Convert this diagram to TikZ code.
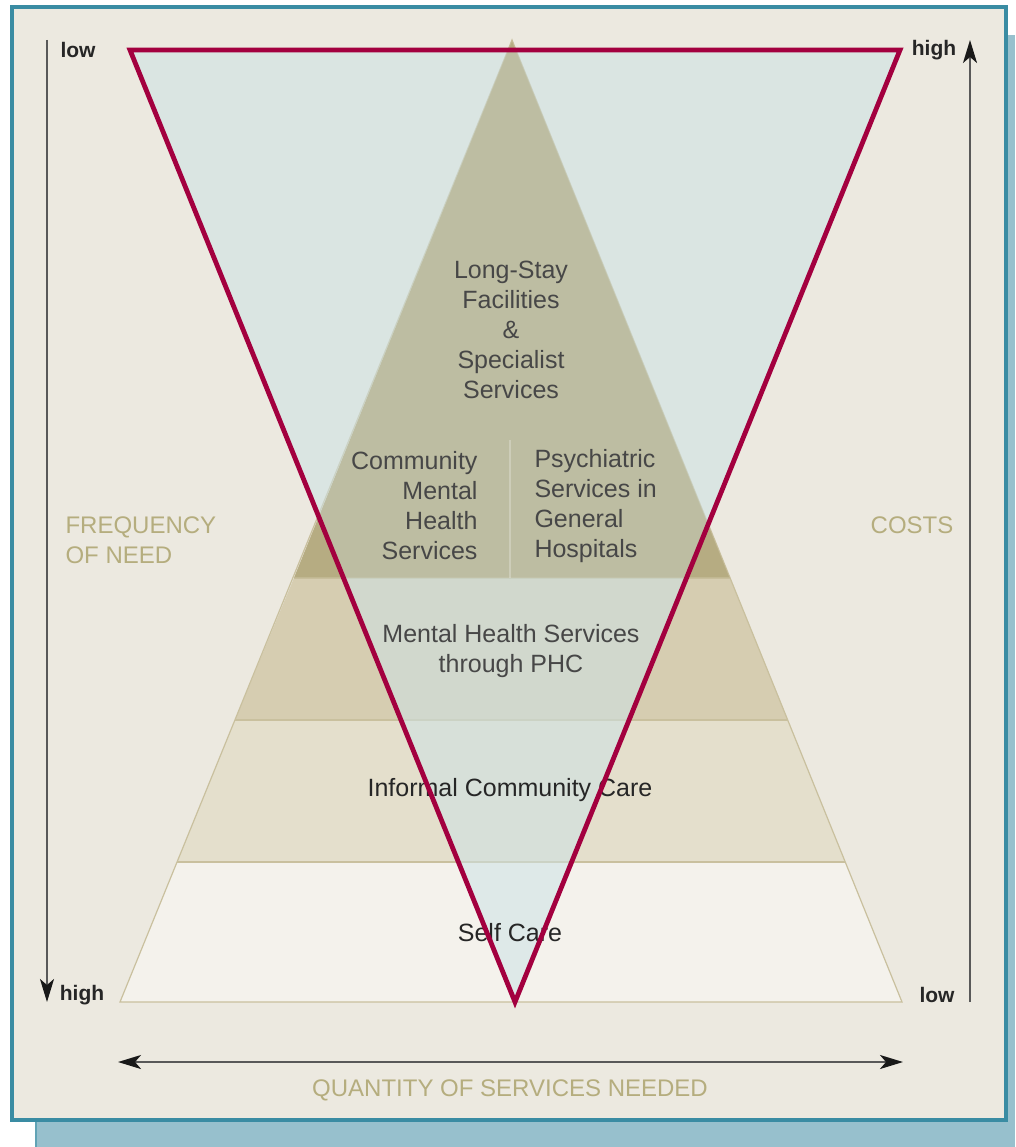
\documentclass[tikz,border=0pt]{standalone}
\usepackage{fontspec}
\setmainfont{Liberation Sans}
\usetikzlibrary{arrows.meta}
\tikzset{>={Stealth[length = 23pt, width = 14pt, inset = 6pt, black!90]}}
\definecolor{frameTeal}{HTML}{3A8CA3}
\definecolor{shadowBlue}{HTML}{97C0CD}
\definecolor{paper}{HTML}{ECE9E0}
\definecolor{tierTop}{HTML}{B6AC82}
\definecolor{tierPhc}{HTML}{D6CDB1}
\definecolor{tierInformal}{HTML}{E4DFCC}
\definecolor{tierSelf}{HTML}{F4F2EC}
\definecolor{tierEdge}{HTML}{C9C09E}
\definecolor{costRed}{HTML}{A3003F}
\definecolor{costBlue}{HTML}{CDE2E5}
\definecolor{axisOlive}{HTML}{B5AD7E}
\tikzstyle{tierLabel} = [text = black!72, align = center, font = \fontsize{25}{30}\selectfont]
\tikzstyle{axisLabel} = [text = axisOlive, align = left, font = \fontsize{24}{30}\selectfont]
\tikzstyle{endLabel} = [text = black!85, font = \bfseries\fontsize{21}{24}\selectfont]
\tikzstyle{axisArrow} = [draw = black!65, line width = 2]

\begin{document}
\begin{tikzpicture}[x = 1pt, y = -1pt]
    \useasboundingbox (0,0) rectangle (1015,1147);
    % frame with shadow
    \fill [shadowBlue] (35,35) rectangle (1015,1147);
    \draw [frameTeal!80, line width = 2] (36,1121) -- (36,1147);
    \draw [frameTeal, fill = paper, line width = 4] (12,7) rectangle (1006,1120);

    % pyramid tiers
    \fill [tierTop] (512,40) -- (730,578) -- (294,578) -- cycle;
    \fill [tierPhc] (294,578) -- (730,578) -- (788,720) -- (235,720) -- cycle;
    \fill [tierInformal] (235,720) -- (788,720) -- (845,862) -- (177,862) -- cycle;
    \fill [tierSelf] (177,862) -- (845,862) -- (902,1002) -- (120,1002) -- cycle;
    \draw [tierEdge, line width = 1.2] (512,40) -- (902,1002) -- (120,1002) -- cycle;
    \draw [tierEdge, line width = 1.2] (294,578) -- (730,578);
    \draw [tierEdge, line width = 1.2] (235,720) -- (788,720);
    \draw [tierEdge, line width = 1.2] (177,862) -- (845,862);

    % inverted cost triangle
    \fill [costBlue, opacity = 0.55] (130,50) -- (900,50) -- (515,1002) -- cycle;
    \fill [tierTop, opacity = 0.4] (512,40) -- (730,578) -- (294,578) -- cycle;
    \draw [white, opacity = 0.25, line width = 1.5] (510,440) -- (510,578);

    % tier texts
    \node (longStay) [tierLabel] at (511,330) {Long-Stay\\Facilities\\\&\\Specialist\\Services};
    \node (communityMh) [tierLabel, align = right, anchor = east] at (481,506) {Community\\Mental\\Health\\Services};
    \node (psychiatric) [tierLabel, align = left, anchor = west] at (531,506) {Psychiatric\\Services in\\General\\Hospitals};
    \node (phc) [tierLabel] at (511,651) {Mental Health Services\\through PHC};
    \node (informal) [tierLabel, text = black!85] at (510,790) {Informal Community Care};
    \node (selfCare) [tierLabel, text = black!85] at (510,933) {Self Care};

    \draw [costRed, line width = 4.8, miter limit = 20] (130,50) -- (900,50) -- (515,1002) -- cycle;

    % axes
    \coordinate (freqTop) at (47,40);
    \coordinate (freqBottom) at (47,1002);
    \coordinate (costBottom) at (970,1002);
    \coordinate (costTop) at (970,40);
    \coordinate (qtyLeft) at (118,1062);
    \coordinate (qtyRight) at (903,1062);
    \draw [->, axisArrow] (freqTop) -- (freqBottom);
    \draw [->, axisArrow] (costBottom) -- (costTop);
    \draw [<->, axisArrow] (qtyLeft) -- (qtyRight);

    \node (freqLow) [endLabel] at (78,50) {low};
    \node (freqHigh) [endLabel] at (82,995) {high};
    \node (costHigh) [endLabel] at (934,50) {high};
    \node (costLow) [endLabel] at (937,995) {low};
    \node (freqName) [axisLabel, anchor = west] at (62,540) {FREQUENCY\\OF NEED};
    \node (costName) [axisLabel] at (912,525) {COSTS};
    \node (qtyName) [axisLabel] at (510,1090) {QUANTITY OF SERVICES NEEDED};
\end{tikzpicture}
\end{document}
